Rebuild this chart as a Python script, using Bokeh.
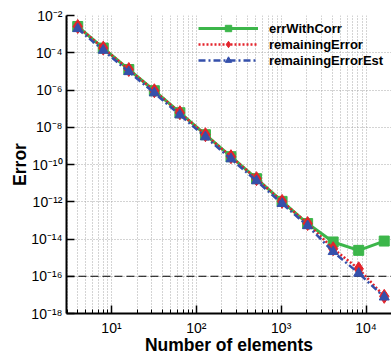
from bokeh.plotting import figure
from bokeh.models import (FixedTicker, CustomJSTickFormatter, Span, Legend, LegendItem,
                          ColumnDataSource)
from bokeh.embed import file_html
from bokeh.resources import INLINE

# ---- data ----
n_elements = [4, 8, 16, 32, 64, 128, 256, 512, 1024, 2048, 4096, 8192, 16384]
err_with_corr_log10 = [-2.59, -3.75, -4.90, -6.04, -7.22, -8.40, -9.58, -10.76,
                       -11.98, -13.17, -14.16, -14.61, -14.11]
remaining_error_log10 = [-2.59, -3.75, -4.90, -6.04, -7.22, -8.40, -9.58, -10.76,
                         -11.98, -13.17, -14.52, -15.60, -17.08]
remaining_error_est_log10 = [-2.71, -3.87, -5.02, -6.16, -7.34, -8.52, -9.70, -10.88,
                             -12.10, -13.29, -14.68, -15.84, -17.12]
machine_eps = 1e-16

x_ticks = [10, 100, 1000, 10000]
x_tick_exps = [1, 2, 3, 4]
x_tick_labels = ["10\u00b9", "10\u00b2", "10\u00b3", "10\u2074"]
y_tick_exps = [-2, -4, -6, -8, -10, -12, -14, -16, -18]
y_tick_labels = ["10\u207b\u00b2", "10\u207b\u2074", "10\u207b\u2076", "10\u207b\u2078",
                 "10\u207b\u00b9\u2070", "10\u207b\u00b9\u00b2", "10\u207b\u00b9\u2074",
                 "10\u207b\u00b9\u2076", "10\u207b\u00b9\u2078"]
series_names = ["errWithCorr", "remainingError", "remainingErrorEst"]

err_with_corr = [10 ** v for v in err_with_corr_log10]
remaining_error = [10 ** v for v in remaining_error_log10]
remaining_error_est = [10 ** v for v in remaining_error_est_log10]
y_ticks = [10.0 ** e for e in y_tick_exps]

FONT = "Liberation Sans"

p = figure(frame_width=325, frame_height=298, x_axis_type="log", y_axis_type="log",
           x_range=(2.95, 19950), y_range=(1e-18, 1e-2),
           output_backend="svg", toolbar_location=None,
           min_border_left=66, min_border_right=0, min_border_top=15, min_border_bottom=43)
p.outline_line_color = None
p.background_fill_color = "white"
p.border_fill_color = "white"

minor_x = []
for dec in [1, 10, 100, 1000]:
    for m in range(2, 10):
        v = m * dec
        if v >= 3:
            minor_x.append(v)
minor_x.append(20000)

p.xaxis.ticker = FixedTicker(ticks=x_ticks, minor_ticks=minor_x)
p.yaxis.ticker = FixedTicker(ticks=y_ticks, minor_ticks=[])

fmt_code = """
const e = Math.round(Math.log10(tick));
for (let i = 0; i < exps.length; i++) { if (exps[i] == e) return labels[i]; }
return '';
"""
p.xaxis.formatter = CustomJSTickFormatter(args=dict(exps=x_tick_exps, labels=x_tick_labels), code=fmt_code)
p.yaxis.formatter = CustomJSTickFormatter(args=dict(exps=y_tick_exps, labels=y_tick_labels), code=fmt_code)

for ax in p.axis:
    ax.axis_line_width = 2
    ax.axis_line_color = "black"
    ax.major_tick_in = 8
    ax.major_tick_out = 0
    ax.minor_tick_in = 4
    ax.minor_tick_out = 0
    ax.major_tick_line_width = 1.5
    ax.major_label_text_font = FONT
    ax.major_label_text_font_size = "14px"
    ax.major_label_text_color = "black"
    ax.axis_label_text_font = FONT
    ax.axis_label_text_font_style = "bold"
    ax.axis_label_text_font_size = "17.5px"
    ax.axis_label_text_color = "black"

p.xaxis.axis_label = "Number of elements"
p.yaxis.axis_label = "Error"
p.xaxis.major_label_standoff = 6
p.xaxis.axis_label_standoff = -4
p.yaxis.major_label_standoff = 4
p.yaxis.axis_label_standoff = -2

grid_color = "#a8a8a8"
p.xgrid.grid_line_color = grid_color
p.xgrid.grid_line_dash = "1 2"
p.xgrid.minor_grid_line_color = grid_color
p.xgrid.minor_grid_line_dash = "1 2"
p.ygrid.grid_line_color = grid_color
p.ygrid.grid_line_dash = "1 2"

eps_line = Span(location=machine_eps, dimension="width", line_color="black",
                line_dash="8 4", line_width=1.2, level="underlay")
p.add_layout(eps_line)

src = ColumnDataSource(dict(n=n_elements, g=err_with_corr, r=remaining_error, b=remaining_error_est))

green = "#3cb64a"
red = "#e3232b"
blue = "#3550ab"

gl = p.line("n", "g", source=src, line_color=green, line_width=3)
gm = p.scatter("n", "g", source=src, marker="square", size=10, fill_color=green, line_color=green)
rl = p.line("n", "r", source=src, line_color=red, line_width=2.5, line_dash="2 2")
rm = p.scatter("n", "r", source=src, marker="diamond", size=14, fill_color=red, line_color=red)
bl = p.line("n", "b", source=src, line_color=blue, line_width=2.5, line_dash="7 3 2 3")
bm = p.scatter("n", "b", source=src, marker="triangle", size=10, fill_color=blue, line_color=blue)

legend = Legend(items=[
    LegendItem(label=series_names[0], renderers=[gl, gm]),
    LegendItem(label=series_names[1], renderers=[rl, rm]),
    LegendItem(label=series_names[2], renderers=[bl, bm]),
], location=(132, 245))
legend.background_fill_alpha = 0
legend.border_line_color = None
legend.padding = 0
legend.margin = 0
legend.spacing = 0
legend.label_height = 16
legend.glyph_height = 16
legend.glyph_width = 60
legend.label_standoff = 11
legend.label_text_font = FONT
legend.label_text_font_style = "bold"
legend.label_text_font_size = "13px"
legend.label_text_color = "black"
p.add_layout(legend)

open("out.html", "w").write(file_html(p, INLINE))
